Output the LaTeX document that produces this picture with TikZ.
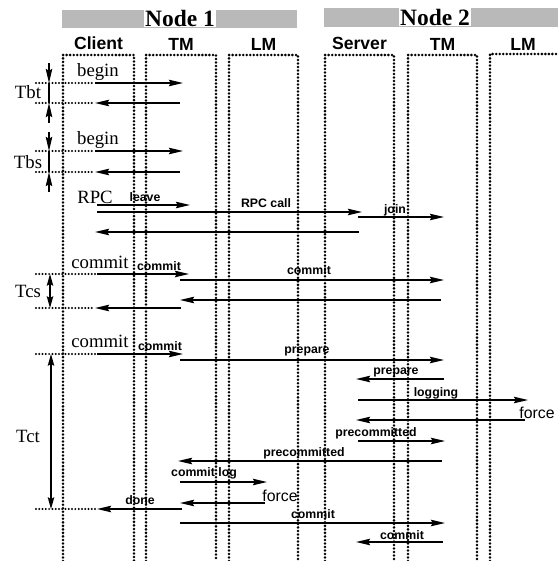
\documentclass[tikz,border=0pt]{standalone}
\usepackage{fontspec}
\setmainfont{Liberation Serif}
\setsansfont{Liberation Sans}
\usetikzlibrary{arrows.meta,positioning}

\begin{document}
\begin{tikzpicture}[
        x=0.03cm, y=-0.03cm,
        life/.style={line width=2.4pt, line cap=round, dash pattern=on 0pt off 3pt},
        guide/.style={line width=1.9pt, line cap=round, dash pattern=on 0pt off 2.8pt},
        arrow/.style={-{Stealth[length=12pt,width=5.5pt,inset=1.5pt]}, line width=1.4pt},
        span/.style={{Stealth[length=10pt,width=5.5pt,inset=1.5pt]}-{Stealth[length=10pt,width=5.5pt,inset=1.5pt]}, line width=1.4pt},
        bar/.style={fill=gray!55, draw=none},
        title/.style={font=\fontsize{20}{22}\selectfont\bfseries, fill=white, inner sep=1pt},
        head/.style={font=\fontsize{15}{16}\selectfont\sffamily\bfseries, inner sep=1pt},
        note/.style={font=\fontsize{16}{18}\selectfont, inner sep=1pt},
        msg/.style={font=\fontsize{10.5}{12}\selectfont\sffamily\bfseries, inner sep=1pt},
        bigmsg/.style={font=\fontsize{13.5}{15}\selectfont\sffamily, inner sep=1pt}
    ]
        \useasboundingbox (0,0) rectangle (558,561);

        % Node headers
        \fill[bar] (62,10) rectangle (297,28);
        \fill[bar] (324,8) rectangle (558,27);
        \node[title] (node1) at (180,18) {Node 1};
        \node[title] (node2) at (435,17) {Node 2};

        % Lifelines
        \draw[life] (63,561) |- (134,55) -- (134,561);
        \draw[life] (146,561) |- (216,55) -- (216,561);
        \draw[life] (229,561) |- (298,55) -- (298,561);
        \draw[life] (325,561) |- (394,55) -- (394,561);
        \draw[life] (408,561) |- (477,55) -- (477,561);
        \draw[life] (490,561) |- (558,54);

        % Column titles
        \coordinate (client) at (98.5,55);
        \coordinate (tm1) at (181,55);
        \coordinate (lm1) at (263.5,55);
        \coordinate (server) at (359.5,55);
        \coordinate (tm2) at (442.5,55);
        \coordinate (lm2) at (523,55);
        \node[head, above=3pt of client] (clientT) {Client};
        \node[head, above=3pt of tm1] (tm1T) {TM};
        \node[head, above=3pt of lm1] (lm1T) {LM};
        \node[head, above=3pt of server] (serverT) {Server};
        \node[head, above=3pt of tm2] (tm2T) {TM};
        \node[head, above=3pt of lm2] (lm2T) {LM};

        % begin (Tbt)
        \coordinate (bt1) at (95,83);  \coordinate (bt2) at (183,83);
        \coordinate (bt3) at (180,103); \coordinate (bt4) at (95,103);
        \coordinate (gbt1) at (36,83); \coordinate (gbt2) at (36,103);
        \coordinate (tbtA) at (49,63); \coordinate (tbtB) at (49,83);
        \coordinate (tbtC) at (49,103); \coordinate (tbtD) at (49,123);
        \node[note] (begin1) at (98,72) {begin};
        \node[note] (tbt) at (28,92) {Tbt};
        \draw[guide] (gbt1) -- (bt1);
        \draw[guide] (gbt2) -- (bt4);
        \draw[arrow] (bt1) -- (bt2);
        \draw[arrow] (bt3) -- (bt4);
        \draw[arrow] (tbtA) -- (tbtB);
        \draw[line width=1.4pt] (tbtB) -- (tbtC);
        \draw[arrow] (tbtD) -- (tbtC);

        % begin (Tbs)
        \coordinate (bs1) at (95,151);  \coordinate (bs2) at (183,151);
        \coordinate (bs3) at (180,172); \coordinate (bs4) at (95,172);
        \coordinate (gbs1) at (36,151); \coordinate (gbs2) at (36,172);
        \coordinate (tbsA) at (49,132); \coordinate (tbsB) at (49,151);
        \coordinate (tbsC) at (49,172); \coordinate (tbsD) at (49,192);
        \node[note] (begin2) at (98,140) {begin};
        \node[note] (tbs) at (28,162) {Tbs};
        \draw[guide] (gbs1) -- (bs1);
        \draw[guide] (gbs2) -- (bs4);
        \draw[arrow] (bs1) -- (bs2);
        \draw[arrow] (bs3) -- (bs4);
        \draw[arrow] (tbsA) -- (tbsB);
        \draw[line width=1.4pt] (tbsB) -- (tbsC);
        \draw[arrow] (tbsD) -- (tbsC);

        % RPC
        \coordinate (lv1) at (97,205);  \coordinate (lv2) at (190,205);
        \coordinate (rc1) at (97,212);  \coordinate (rc2) at (362,212);
        \coordinate (jn1) at (358,217); \coordinate (jn2) at (444,217);
        \coordinate (rr1) at (359,232); \coordinate (rr2) at (95,232);
        \node[note] (rpc) at (95,197) {RPC};
        \node[msg] (leave) at (145,197) {leave};
        \node[msg] (rpccall) at (266,203) {RPC call};
        \node[msg] (join) at (395,210) {join};
        \draw[arrow] (lv1) -- (lv2);
        \draw[arrow] (rc1) -- (rc2);
        \draw[arrow] (jn1) -- (jn2);
        \draw[arrow] (rr1) -- (rr2);

        % commit (Tcs)
        \coordinate (cs1) at (97,274);  \coordinate (cs2) at (189,274);
        \coordinate (cs3) at (180,280); \coordinate (cs4) at (444,280);
        \coordinate (cs5) at (441,300); \coordinate (cs6) at (180,300);
        \coordinate (cs7) at (181,308); \coordinate (cs8) at (95,308);
        \coordinate (gcs1) at (36,274); \coordinate (gcs2) at (36,308);
        \coordinate (tcsA) at (50,274); \coordinate (tcsB) at (50,308);
        \node[note] (commit1) at (100,262) {commit};
        \node[msg] (commit2) at (159,266) {commit};
        \node[msg] (commit3) at (309,270) {commit};
        \node[note] (tcs) at (28,291) {Tcs};
        \draw[guide] (gcs1) -- (cs1);
        \draw[guide] (gcs2) -- (cs8);
        \draw[arrow] (cs1) -- (cs2);
        \draw[arrow] (cs3) -- (cs4);
        \draw[arrow] (cs5) -- (cs6);
        \draw[arrow] (cs7) -- (cs8);
        \draw[span] (tcsA) -- (tcsB);

        % commit (Tct)
        \coordinate (ct1) at (97,354);  \coordinate (ct2) at (183,354);
        \coordinate (pp1) at (180,360); \coordinate (pp2) at (444,360);
        \coordinate (pp3) at (444,379); \coordinate (pp4) at (356,379);
        \coordinate (lg1) at (358,400); \coordinate (lg2) at (528,400);
        \coordinate (fc1) at (525,420); \coordinate (fc2) at (356,420);
        \coordinate (pc1) at (358,441); \coordinate (pc2) at (445,441);
        \coordinate (pc3) at (442,461); \coordinate (pc4) at (178,461);
        \coordinate (cl1) at (180,482); \coordinate (cl2) at (267,482);
        \coordinate (fc3) at (265,503); \coordinate (fc4) at (180,503);
        \coordinate (dn1) at (182,509); \coordinate (dn2) at (97,509);
        \coordinate (cm1) at (180,523); \coordinate (cm2) at (445,523);
        \coordinate (cm3) at (443,542); \coordinate (cm4) at (356,542);
        \coordinate (gct1) at (36,354); \coordinate (gct2) at (36,509);
        \coordinate (tctA) at (51,354); \coordinate (tctB) at (51,509);
        \node[note] (commit4) at (100,341) {commit};
        \node[msg] (commit5) at (160,346) {commit};
        \node[msg] (prepare1) at (307,351) {prepare};
        \node[msg] (prepare2) at (396,372) {prepare};
        \node[msg] (logging) at (436,393) {logging};
        \node[bigmsg] (force1) at (537,413) {force};
        \node[msg] (precom1) at (376,433) {precommitted};
        \node[msg] (precom2) at (304,453) {precommitted};
        \node[msg] (commitlog) at (204,473) {commit log};
        \node[bigmsg] (force2) at (280,496) {force};
        \node[msg] (done) at (140,500) {done};
        \node[msg] (commit6) at (313,514) {commit};
        \node[msg] (commit7) at (402,535) {commit};
        \node[note] (tct) at (28,436) {Tct};
        \draw[guide] (gct1) -- (ct1);
        \draw[guide] (gct2) -- (dn2);
        \draw[arrow] (ct1) -- (ct2);
        \draw[arrow] (pp1) -- (pp2);
        \draw[arrow] (pp3) -- (pp4);
        \draw[arrow] (lg1) -- (lg2);
        \draw[arrow] (fc1) -- (fc2);
        \draw[arrow] (pc1) -- (pc2);
        \draw[arrow] (pc3) -- (pc4);
        \draw[arrow] (cl1) -- (cl2);
        \draw[arrow] (fc3) -- (fc4);
        \draw[arrow] (dn1) -- (dn2);
        \draw[arrow] (cm1) -- (cm2);
        \draw[arrow] (cm3) -- (cm4);
        \draw[span] (tctA) -- (tctB);
    \end{tikzpicture}
\end{document}
